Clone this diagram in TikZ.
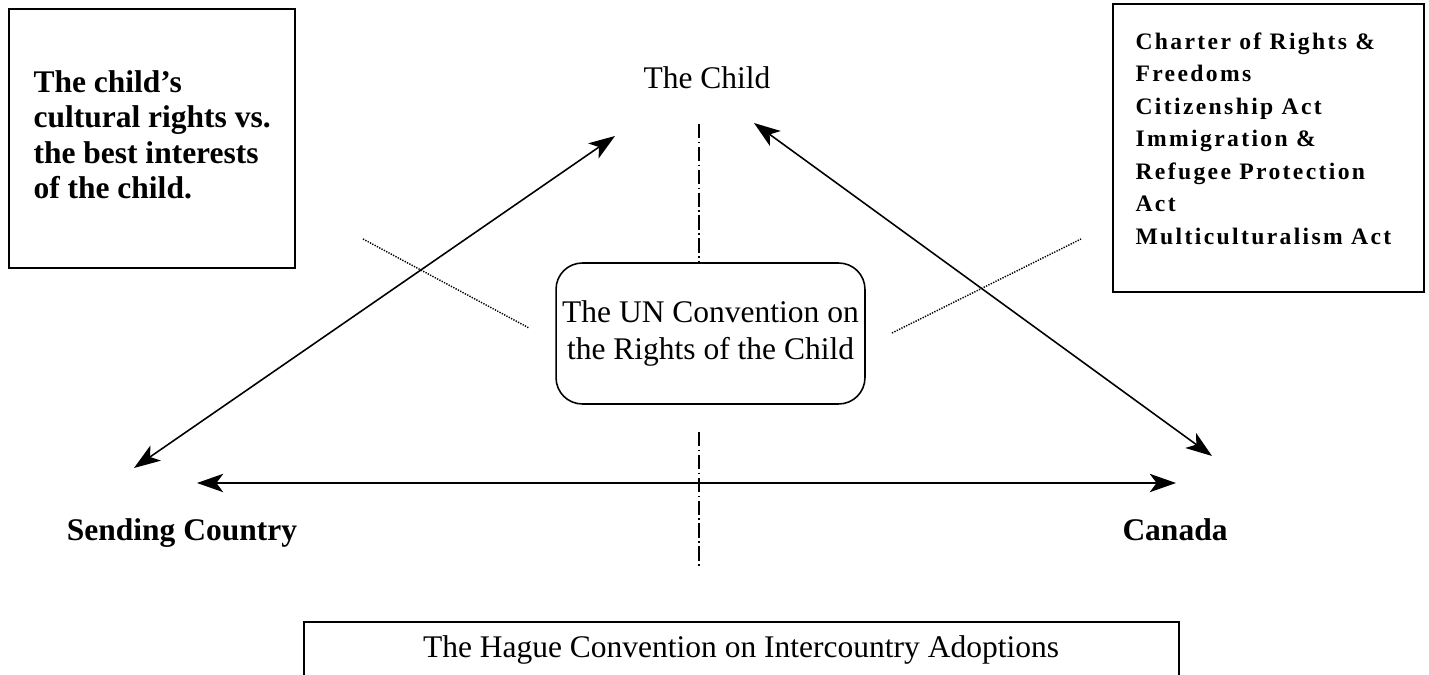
\documentclass[tikz,border=0pt]{standalone}
\usepackage{fontspec}
\setmainfont{Liberation Serif}
\usetikzlibrary{arrows.meta}
\begin{document}
\begin{tikzpicture}[x=0.381pt,y=-0.381pt,
  boxline/.style={draw, line width=0.85pt, inner sep=0pt},
  conn/.style={line width=0.6pt, {Stealth[length=10pt,width=7pt,inset=2.6pt]}-{Stealth[length=10pt,width=7pt,inset=2.6pt]}},
  dotline/.style={line width=0.55pt, dash pattern=on 0.5pt off 0.5pt},
  axisline/.style={line width=0.5pt, dash pattern=on 5.5pt off 1.3pt on 0.6pt off 1.3pt},
  lbl/.style={font=\fontsize{12}{14}\selectfont, inner sep=0pt},
  lblb/.style={font=\fontsize{12}{14}\selectfont\bfseries, inner sep=0pt}]
\useasboundingbox (0,0) rectangle (1429,675);
\clip (0,0) rectangle (1429,675);

% corner boxes
\node[boxline, minimum width=109pt, minimum height=98.7pt] (lbox) at (152,138.5) {};
\node[lblb, font=\fontsize{12}{13.5}\selectfont\bfseries, align=left, anchor=north west] (ltext) at (33,70)
  {The child’s\\cultural rights vs.\\the best interests\\of the child.};

\node[boxline, minimum width=118.5pt, minimum height=109.7pt] (rbox) at (1268.5,148) {};
\node[font=\fontsize{9}{12.4}\selectfont\bfseries\addfontfeature{LetterSpace=10}, inner sep=0pt, align=left, anchor=north west] (rtext) at (1135,32)
  {Charter of Rights \&\\Freedoms\\Citizenship Act\\Immigration \&\\Refugee Protection\\Act\\Multiculturalism Act};

% main labels
\node[lbl, anchor=base] (child) at (707,89) {The Child};
\node[lblb, anchor=base] (send) at (182,540) {Sending Country};
\node[lblb, anchor=base] (canada) at (1175,540) {Canada};

% centre box
\node[draw, line width=0.6pt, rounded corners=10pt, minimum width=117.7pt, minimum height=53.7pt,
      align=center, font=\fontsize{12}{14}\selectfont, inner sep=1pt] (uncrc) at (710.5,333.5)
  {The UN Convention on\\the Rights of the Child};

% bottom box
\node[boxline, minimum width=333.4pt, minimum height=40pt, anchor=north] (hbox) at (741.5,621) {};
\node[lbl, anchor=base] (hague) at (741,657) {The Hague Convention on Intercountry Adoptions};

% vertical axis
\coordinate (axtop) at (699,124);
\coordinate (axmid) at (699,432);
\coordinate (axbot) at (699,568);
\draw[axisline] (axtop) -- (axtop |- uncrc.north);
\draw[axisline] (axmid) -- (axbot);

% dotted lines
\coordinate (dl1) at (363,239);
\coordinate (dl2) at (529,328);
\coordinate (dr1) at (892,333);
\coordinate (dr2) at (1081,239);
\draw[dotline] (dl1) -- (dl2);
\draw[dotline] (dr1) -- (dr2);

% arrows
\coordinate (childL) at (615,136);
\coordinate (childR) at (754,123);
\coordinate (sendT) at (134,468);
\coordinate (sendR) at (197,483);
\coordinate (canL) at (1176,483);
\coordinate (canT) at (1212,456);
\draw[conn] (sendT) -- (childL);
\draw[conn] (childR) -- (canT);
\draw[conn] (sendR) -- (canL);
\end{tikzpicture}
\end{document}
